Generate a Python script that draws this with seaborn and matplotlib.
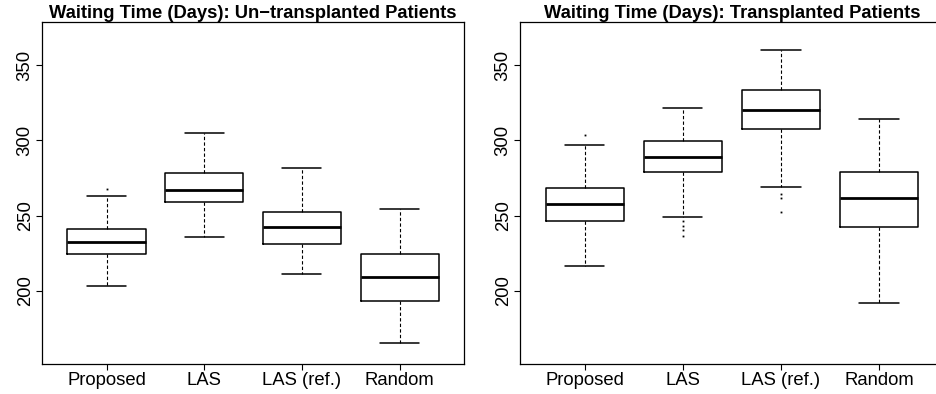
import numpy as np
import pandas as pd
import matplotlib
matplotlib.use("Agg")
import matplotlib.pyplot as plt
import seaborn as sns

# box summaries (days)
groups = ["Proposed", "LAS", "LAS (ref.)", "Random"]

untx_lo = [203.5, 235.8, 211.4, 165.4]
untx_q1 = [224.5, 259.0, 231.1, 193.5]
untx_med = [232.2, 267.0, 242.4, 209.0]
untx_q3 = [241.3, 278.0, 252.6, 224.7]
untx_hi = [262.7, 304.8, 281.3, 254.4]
untx_out = [[268.0], [], [], []]

tx_lo = [216.7, 249.0, 269.2, 191.7]
tx_q1 = [246.6, 279.0, 307.5, 242.2]
tx_med = [257.4, 288.6, 319.9, 261.4]
tx_q3 = [268.1, 299.2, 333.4, 278.7]
tx_hi = [296.9, 321.6, 359.7, 314.1]
tx_out = [[303.5], [246.5, 243.3, 240.2, 236.7], [264.5, 261.7, 252.4], []]

titles = ["Waiting Time (Days): Un\u2212transplanted Patients",
          "Waiting Time (Days): Transplanted Patients"]
yticks = [200, 250, 300, 350]


def sample_from_summary(lo, q1, med, q3, hi, outliers):
    """
    Build a small sample whose quartiles / whiskers / fliers reproduce the summary
    (4k+1 points so the linear percentiles land exactly on q1, med, q3)
    """
    low_out = sorted(v for v in outliers if v < q1)
    high_out = sorted(v for v in outliers if v > q3)
    k = max(len(low_out), len(high_out)) + 1
    vals = low_out + [lo] * (k - len(low_out))
    vals += [q1] * k + [med] * k + [q3]
    vals += [hi] * (k - len(high_out)) + high_out
    return vals


def make_frame(lo, q1, med, q3, hi, out):
    rows = []
    for i, g in enumerate(groups):
        for v in sample_from_summary(lo[i], q1[i], med[i], q3[i], hi[i], out[i]):
            rows.append({"group": g, "days": v})
    return pd.DataFrame(rows)


sns.set_theme(style="ticks")
plt.rcParams["font.family"] = ["Liberation Sans", "DejaVu Sans"]
plt.rcParams["text.color"] = "black"
plt.rcParams["xtick.color"] = "black"
plt.rcParams["ytick.color"] = "black"

fig = plt.figure(figsize=(9.36, 3.94), dpi=100)
ax1 = fig.add_axes([0.0449, 0.0761, 0.451, 0.868])
ax2 = fig.add_axes([0.5556, 0.0761, 0.4527, 0.868])

frames = [make_frame(untx_lo, untx_q1, untx_med, untx_q3, untx_hi, untx_out),
          make_frame(tx_lo, tx_q1, tx_med, tx_q3, tx_hi, tx_out)]

for ax, df, title in zip([ax1, ax2], frames, titles):
    sns.boxplot(data=df, x="group", y="days", order=groups, ax=ax,
                fill=False, color="black", width=0.8, linewidth=1.1,
                whis=1.5,
                whiskerprops={"linestyle": (0, (3, 2)), "linewidth": 0.8},
                capprops={"linewidth": 1.1},
                medianprops={"linewidth": 2.0},
                flierprops={"marker": "s", "markersize": 1.3,
                            "markerfacecolor": "black", "markeredgewidth": 0})
    ax.set_xlim(-0.66, 3.66)
    ax.set_ylim(151.5, 378.5)
    ax.set_yticks(yticks)
    ax.set_xlabel("")
    ax.set_ylabel("")
    ax.set_title(title, fontsize=13.2, fontweight="bold", pad=2, color="black")
    for s in ax.spines.values():
        s.set_visible(True)
        s.set_linewidth(0.9)
        s.set_color("black")
    ax.tick_params(axis="both", length=4, width=0.8, color="black",
                   labelcolor="black", labelsize=13.3, pad=2)
    for lab in ax.get_yticklabels():
        lab.set_rotation(90)
        lab.set_va("center")

fig.savefig("out.png", dpi=100)
